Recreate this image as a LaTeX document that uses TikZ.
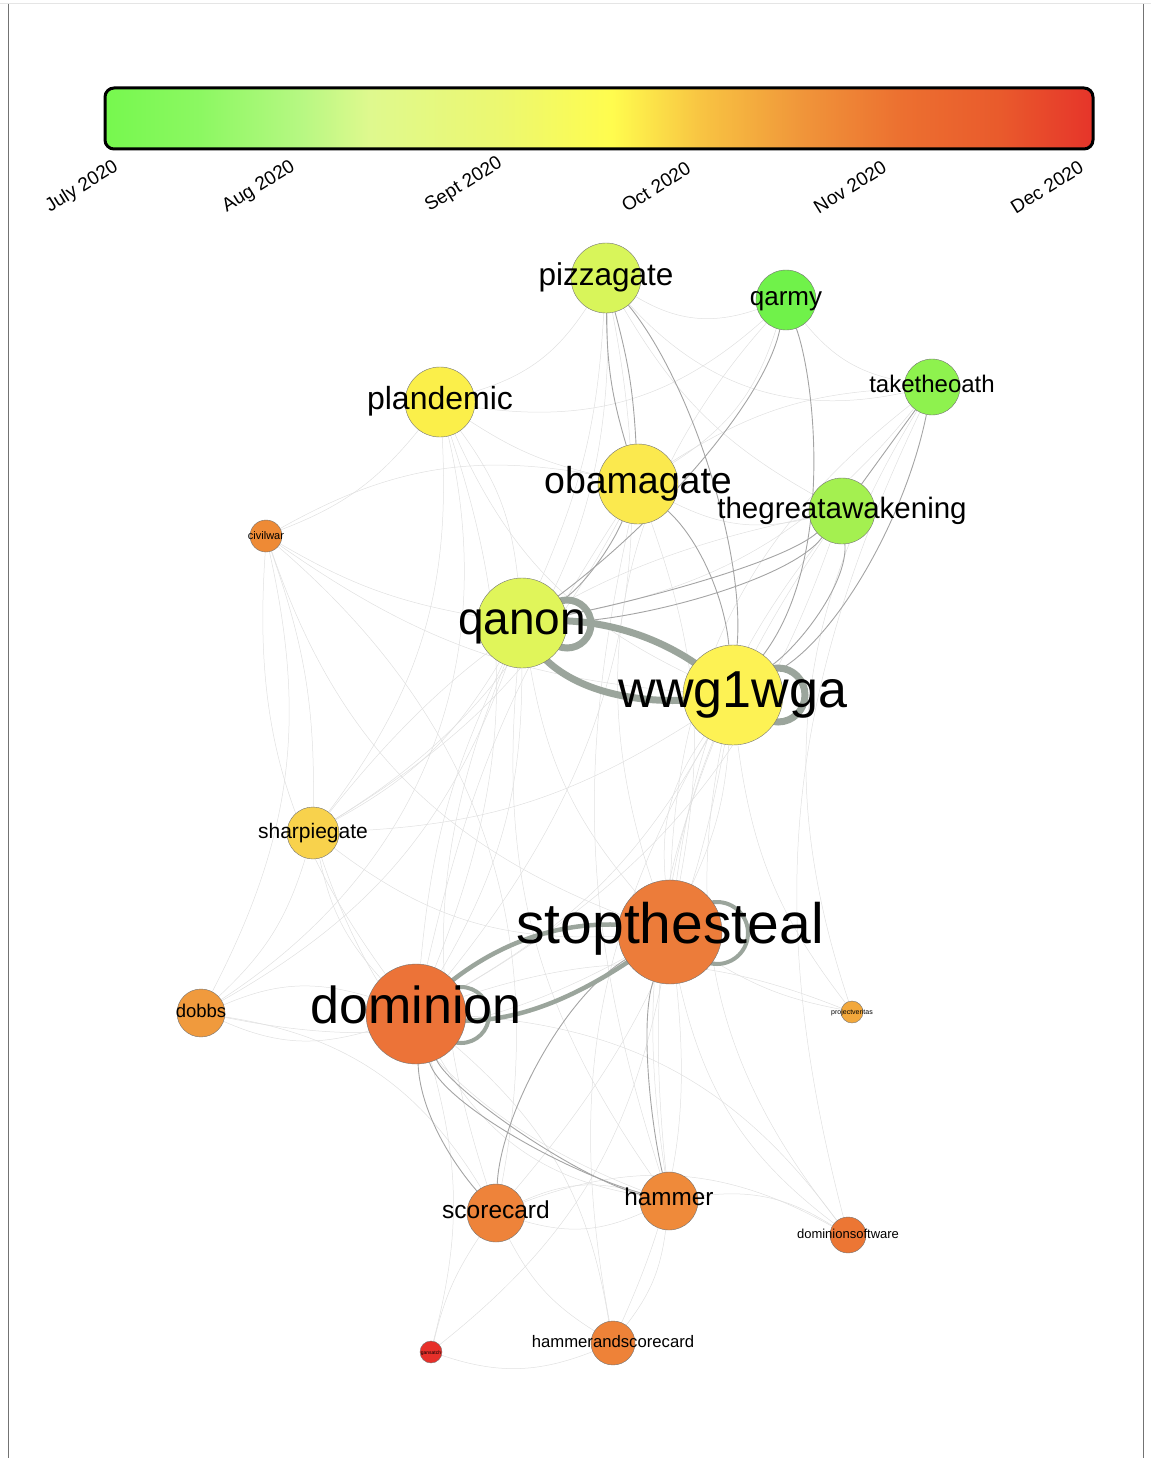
\documentclass[tikz,border=0pt]{standalone}
\usepackage{fontspec}
\setmainfont{Liberation Sans}
\pgfdeclarelayer{bg}
\pgfsetlayers{bg,main}
\definecolor{cA}{HTML}{76F84E}
\definecolor{cB}{HTML}{8CF862}
\definecolor{cC}{HTML}{B6F882}
\definecolor{cD}{HTML}{DFF98E}
\definecolor{cE}{HTML}{ECF870}
\definecolor{cF}{HTML}{FFFC4E}
\definecolor{cG}{HTML}{F8C442}
\definecolor{cH}{HTML}{F0963A}
\definecolor{cI}{HTML}{EC7030}
\definecolor{cJ}{HTML}{E95A2C}
\definecolor{cK}{HTML}{E6342A}
\definecolor{thick}{HTML}{9BA59C}
\definecolor{medium}{HTML}{A4A4A4}
\definecolor{faint}{HTML}{E0E0E0}
\tikzset{
  nd/.style={circle, draw=black!55, line width=0.4pt, inner sep=0pt, minimum size=#1},
  lbl/.style={anchor=base, inner sep=0pt, font=\fontsize{#1}{#1}\selectfont},
  datelbl/.style={rotate=32, inner sep=0pt, font=\fontsize{19}{19}\selectfont},
  thickedge/.style={draw=thick, line width=#1},
  medge/.style={draw=medium, line width=0.9pt},
  fedge/.style={draw=faint, line width=0.5pt},
}
\begin{document}
\begin{tikzpicture}[x=1pt,y=-1pt]
\useasboundingbox (0,0) rectangle (1151,1458);
% frame
\draw[black!10, line width=1pt] (0,4) -- (1151,4);
\draw[black!55, line width=0.8pt] (8,4) -- (8,1458);
\draw[black!55, line width=0.8pt] (1143,4) -- (1143,1458);
% colour bar
\begin{scope}
\clip[rounded corners=9pt] (105,88) rectangle (1093,149);
\fill[left color=cA, right color=cB] (104,88) rectangle (200.5,149);
\fill[left color=cB, right color=cC] (200,88) rectangle (300.5,149);
\fill[left color=cC, right color=cD] (300,88) rectangle (370.5,149);
\fill[left color=cD, right color=cE] (370,88) rectangle (500.5,149);
\fill[left color=cE, right color=cF] (500,88) rectangle (612.5,149);
\fill[left color=cF, right color=cG] (612,88) rectangle (700.5,149);
\fill[left color=cG, right color=cH] (700,88) rectangle (800.5,149);
\fill[left color=cH, right color=cI] (800,88) rectangle (900.5,149);
\fill[left color=cI, right color=cJ] (900,88) rectangle (1000.5,149);
\fill[left color=cJ, right color=cK] (1000,88) rectangle (1094,149);
\end{scope}
\node[draw=black, line width=3pt, rounded corners=9pt, minimum width=988pt, minimum height=61pt, inner sep=0pt] (bar) at (599,118.5) {};
\node[datelbl] (d1) at (82,187) {July 2020};
\node[datelbl] (d2) at (259,187) {Aug 2020};
\node[datelbl] (d3) at (464,185) {Sept 2020};
\node[datelbl] (d4) at (656,187) {Oct 2020};
\node[datelbl] (d5) at (850,187) {Nov 2020};
\node[datelbl] (d6) at (1047,187) {Dec 2020};
% nodes
\node[nd=70pt, fill={rgb,255:red,216;green,245;blue,90}] (pizzagate) at (606,278) {};
\node[nd=60pt, fill={rgb,255:red,112;green,242;blue,74}] (qarmy) at (786,300) {};
\node[nd=56pt, fill={rgb,255:red,142;green,242;blue,78}] (taketheoath) at (932,387) {};
\node[nd=70pt, fill={rgb,255:red,251;green,239;blue,74}] (plandemic) at (440,402) {};
\node[nd=80pt, fill={rgb,255:red,251;green,233;blue,78}] (obamagate) at (638,484) {};
\node[nd=66pt, fill={rgb,255:red,164;green,240;blue,80}] (tga) at (842,511) {};
\node[nd=32pt, fill={rgb,255:red,238;green,138;blue,53}] (civilwar) at (266,536) {};
\node[nd=90pt, fill={rgb,255:red,224;green,245;blue,90}] (qanon) at (522,623) {};
\node[nd=100pt, fill={rgb,255:red,253;green,242;blue,84}] (wwg) at (733,695) {};
\node[nd=52pt, fill={rgb,255:red,248;green,210;blue,76}] (sharpiegate) at (313,833) {};
\node[nd=104pt, fill={rgb,255:red,236;green,124;blue,58}] (stopthesteal) at (670,932) {};
\node[nd=100pt, fill={rgb,255:red,236;green,115;blue,56}] (dominion) at (416,1014) {};
\node[nd=48pt, fill={rgb,255:red,240;green,154;blue,61}] (dobbs) at (201,1013) {};
\node[nd=22pt, fill={rgb,255:red,242;green,168;blue,60}] (pv) at (852,1012) {};
\node[nd=58pt, fill={rgb,255:red,238;green,131;blue,58}] (scorecard) at (496,1213) {};
\node[nd=58pt, fill={rgb,255:red,239;green,138;blue,58}] (hammer) at (669,1201) {};
\node[nd=36pt, fill={rgb,255:red,236;green,118;blue,52}] (ds) at (848,1235) {};
\node[nd=44pt, fill={rgb,255:red,238;green,130;blue,56}] (has) at (613,1343) {};
\node[nd=22pt, fill={rgb,255:red,231;green,48;blue,42}] (tiny) at (431,1352) {};
% edges
\begin{pgfonlayer}{bg}
% faint edges
\foreach \a/\b/\bend in {pizzagate/plandemic/20, pizzagate/qarmy/-25, pizzagate/taketheoath/-30, pizzagate/qanon/10, pizzagate/tga/-15,
  plandemic/qanon/15, plandemic/obamagate/-10, plandemic/wwg/-20, plandemic/civilwar/15, plandemic/sharpiegate/20,
  civilwar/qanon/-10, civilwar/dobbs/20, civilwar/sharpiegate/10, civilwar/wwg/-15, civilwar/dominion/-20,
  qarmy/taketheoath/-20, qarmy/obamagate/20, taketheoath/qanon/20, taketheoath/stopthesteal/-25, taketheoath/ds/-20,
  tga/stopthesteal/-15, wwg/stopthesteal/10, wwg/stopthesteal/-20, wwg/dominion/15, qanon/dominion/-10, qanon/dominion/15,
  qanon/stopthesteal/-15, qanon/sharpiegate/15, sharpiegate/dominion/-15, sharpiegate/stopthesteal/-20, sharpiegate/wwg/-15,
  sharpiegate/dobbs/15, dobbs/dominion/20, dobbs/dominion/-20, dobbs/stopthesteal/-20, dobbs/qanon/-20, dobbs/scorecard/25,
  dominion/has/20, dominion/tiny/15, dominion/ds/25, stopthesteal/ds/-20, stopthesteal/pv/-10, dominion/pv/20,
  stopthesteal/has/15, scorecard/hammer/-20, scorecard/hammer/20, scorecard/has/-15, hammer/has/15, hammer/ds/20,
  scorecard/ds/25, has/tiny/20, scorecard/tiny/-10, obamagate/stopthesteal/15, obamagate/dominion/-10, tga/dominion/20,
  pizzagate/dominion/25, wwg/hammer/-15, wwg/scorecard/15, qanon/hammer/-20, pv/wwg/15, obamagate/sharpiegate/15,
  qarmy/plandemic/25, tga/obamagate/20, taketheoath/obamagate/-15, wwg/ds/-25, stopthesteal/tiny/20, dominion/hammer/-25,
  obamagate/civilwar/-20, tga/sharpiegate/-20, qanon/scorecard/-20, wwg/has/-20,
  plandemic/dobbs/35, civilwar/scorecard/30, pizzagate/sharpiegate/30, qarmy/stopthesteal/-30, taketheoath/pv/-25,
  obamagate/hammer/-15, tga/hammer/-20, plandemic/dominion/20, sharpiegate/hammer/-25, civilwar/stopthesteal/-25}
  \draw[fedge] (\a) to[bend left=\bend] (\b);
% medium edges
\draw[medge] (qarmy) .. controls (765,400) and (660,520) .. (qanon);
\draw[medge] (qarmy) .. controls (815,380) and (835,560) .. (wwg);
\draw[medge] (obamagate) .. controls (610,550) and (580,590) .. (qanon);
\draw[medge] (obamagate) .. controls (700,540) and (725,600) .. (wwg);
\draw[medge] (tga) .. controls (780,565) and (620,605) .. (qanon);
\draw[medge] (tga) .. controls (790,580) and (640,620) .. (qanon);
\draw[medge] (tga) .. controls (848,580) and (805,640) .. (wwg);
\draw[medge] (taketheoath) .. controls (905,520) and (835,640) .. (wwg);
\draw[medge] (taketheoath) -- (tga);
\draw[medge] (pizzagate) .. controls (690,380) and (745,550) .. (wwg);
\draw[medge] (pizzagate) to[bend left=6] (obamagate);
\draw[medge] (pizzagate) to[bend right=8] (obamagate);
\draw[medge] (dominion) .. controls (420,1110) and (450,1160) .. (scorecard);
\draw[medge] (dominion) .. controls (440,1100) and (560,1170) .. (hammer);
\draw[medge] (dominion) .. controls (450,1090) and (580,1180) .. (hammer);
\draw[medge] (stopthesteal) .. controls (560,1000) and (500,1120) .. (scorecard);
\draw[medge] (stopthesteal) .. controls (640,1020) and (650,1120) .. (hammer);
% thick edges
\draw[thickedge=7pt] (qanon.center) .. controls (600,612) and (680,640) .. (wwg.center);
\draw[thickedge=7pt] (qanon.center) .. controls (545,690) and (640,712) .. (wwg.center);
\draw[thickedge=7pt] ([xshift=45pt,yshift=-1pt]qanon.center) circle[radius=24pt];
\draw[thickedge=7pt] ([xshift=45pt]wwg.center) circle[radius=27pt];
\draw[thickedge=4.5pt] (dominion.center) .. controls (470,955) and (560,905) .. (stopthesteal.center);
\draw[thickedge=4.5pt] (dominion.center) .. controls (510,1040) and (600,985) .. (stopthesteal.center);
\draw[thickedge=4pt] ([xshift=47pt,yshift=-1pt]stopthesteal.center) circle[radius=31pt];
\draw[thickedge=4pt] ([xshift=45pt,yshift=-1pt]dominion.center) circle[radius=28pt];
\end{pgfonlayer}
% labels
\node[lbl=31.5] (l-pizzagate) at (606,285) {pizzagate};
\node[lbl=26] (l-qarmy) at (786,305) {qarmy};
\node[lbl=24] (l-taketheoath) at (932,392) {taketheoath};
\node[lbl=32] (l-plandemic) at (440,409) {plandemic};
\node[lbl=37.5] (l-obamagate) at (638,493) {obamagate};
\node[lbl=29.5] (l-tga) at (842,518) {thegreatawakening};
\node[lbl=11] (l-civilwar) at (266,539) {civilwar};
\node[lbl=46] (l-qanon) at (522,634) {qanon};
\node[lbl=52] (l-wwg) at (733,707) {wwg1wga};
\node[lbl=21] (l-sharpiegate) at (313,838) {sharpiegate};
\node[lbl=57] (l-stopthesteal) at (670,943) {stopthesteal};
\node[lbl=52] (l-dominion) at (416,1023) {dominion};
\node[lbl=18.5] (l-dobbs) at (201,1017) {dobbs};
\node[lbl=7] (l-pv) at (852,1014) {projectveritas};
\node[lbl=24.5] (l-scorecard) at (496,1218) {scorecard};
\node[lbl=24.3] (l-hammer) at (669,1205) {hammer};
\node[lbl=13] (l-ds) at (848,1238) {dominionsoftware};
\node[lbl=16.7] (l-has) at (613,1347) {hammerandscorecard};
\node[lbl=5] (l-tiny) at (431,1354) {gansatch};
\end{tikzpicture}
\end{document}
